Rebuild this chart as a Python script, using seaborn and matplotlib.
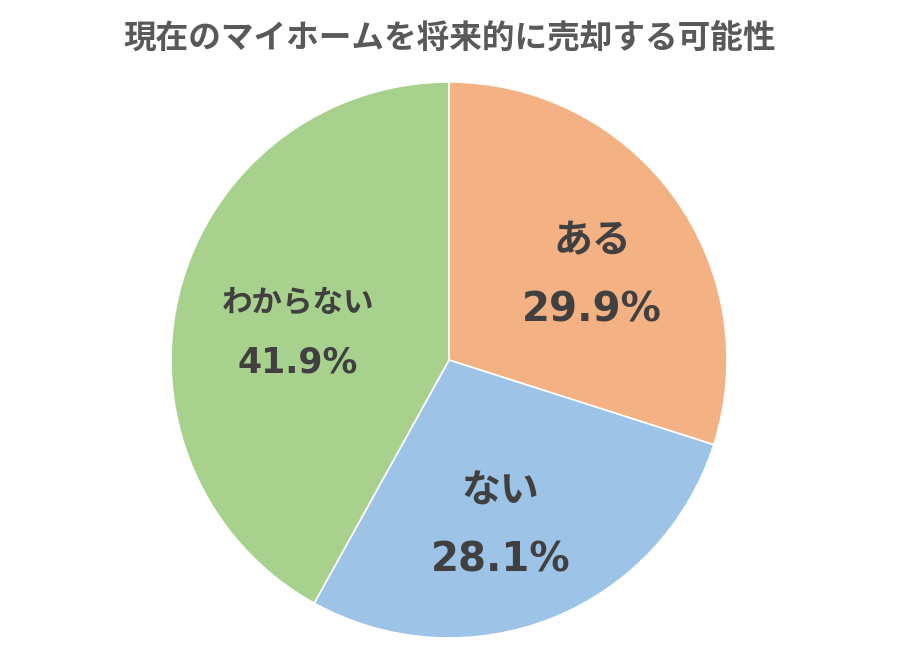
import numpy as np
import matplotlib
matplotlib.use("Agg")
import matplotlib.pyplot as plt
import seaborn as sns

sns.set_theme(style="white")
plt.rcParams['font.family'] = ['Noto Sans CJK JP', 'DejaVu Sans']

# -------------------------------
# data
# -------------------------------
title = "現在のマイホームを将来的に売却する可能性"
categories = ["ある", "ない", "わからない"]
shares = [29.9, 28.1, 41.9]
colors = ["#F4B183", "#9DC3E6", "#A9D18E"]

# label tweaks: angle offset (deg), radius, name size, pct size, half gap (pt)
label_shift = [-5.5, -4.4, 4.2]
label_radius = [0.598, 0.626, 0.552]
name_size = [28, 28, 22]
pct_size = [29, 29, 25]
half_gap = [25, 25, 21.5]

fig = plt.figure(figsize=(9, 6.49), dpi=100)
ax = fig.add_axes([0.19, 0.0169, 0.6178, 0.8568])

wedges, _ = ax.pie(shares, colors=colors, startangle=90, counterclock=False,
                   wedgeprops=dict(edgecolor="white", linewidth=1.2))
ax.set_xlim(-1, 1)
ax.set_ylim(-1, 1)
ax.set_aspect("equal")
ax.axis("off")

for i, w in enumerate(wedges):
    ang = np.deg2rad((w.theta1 + w.theta2) / 2 + label_shift[i])
    x, y = label_radius[i] * np.cos(ang), label_radius[i] * np.sin(ang)
    ax.annotate(categories[i], (x, y), xytext=(0, half_gap[i]), textcoords="offset points",
                ha="center", va="center", fontsize=name_size[i], fontweight="bold",
                color="#404040")
    ax.annotate(f"{shares[i]:.1f}%", (x, y), xytext=(0, -half_gap[i]), textcoords="offset points",
                ha="center", va="center", fontsize=pct_size[i], fontweight="bold",
                color="#404040", family=['DejaVu Sans', 'Noto Sans CJK JP'])

fig.text(0.5, 0.9414, title, ha="center", va="center", fontsize=23.5,
         fontweight="bold", color="#595959")

plt.savefig("out.png", dpi=100)
plt.close()
